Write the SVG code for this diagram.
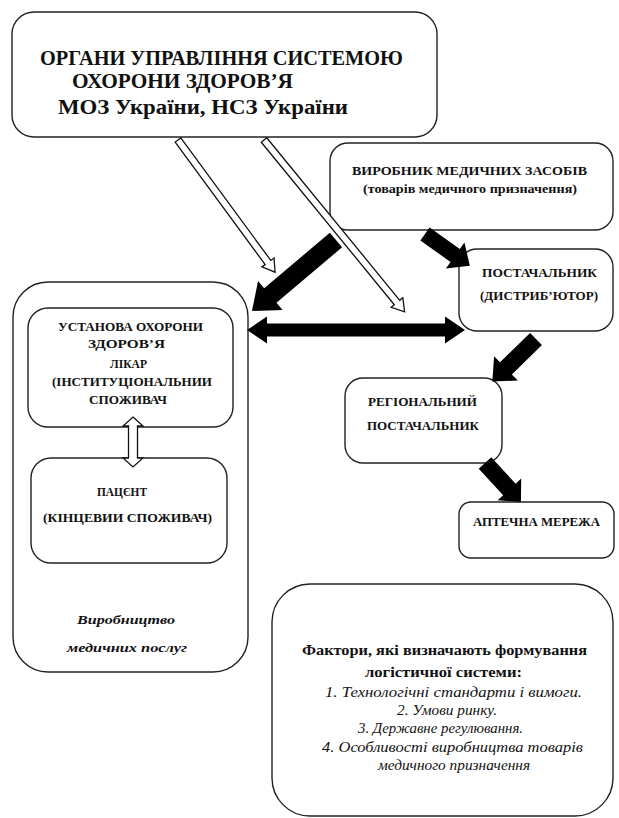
<svg xmlns="http://www.w3.org/2000/svg" width="619" height="818" viewBox="0 0 619 818">
<style>
.box{fill:#fff;stroke:#222;stroke-width:1.4}
.t{font-family:'Liberation Serif','DejaVu Serif',serif;font-weight:bold;fill:#111}
.i{font-family:'Liberation Serif','DejaVu Serif',serif;font-style:italic;fill:#111}
.hollow{fill:#fff;stroke:#111;stroke-width:1.3;stroke-linejoin:miter}
.solid{fill:#000;stroke:none}
</style>
<rect width="619" height="818" fill="#fff"/>
<g id="organs">
<rect class="box" x="12" y="12" width="425" height="125" rx="22"/>
<text class="t" font-size="20" x="40" y="65" textLength="363" lengthAdjust="spacingAndGlyphs">ОРГАНИ УПРАВЛІННЯ СИСТЕМОЮ</text>
<text class="t" font-size="20" x="72" y="88" textLength="221" lengthAdjust="spacingAndGlyphs">ОХОРОНИ ЗДОРОВ’Я</text>
<text class="t" font-size="20" x="58" y="114" textLength="290" lengthAdjust="spacingAndGlyphs">МОЗ України, НСЗ України</text>
</g>
<g id="manufacturer">
<rect class="box" x="330" y="143" width="283" height="87" rx="18"/>
<text class="t" font-size="13" x="352" y="175" textLength="235" lengthAdjust="spacingAndGlyphs">ВИРОБНИК МЕДИЧНИХ ЗАСОБІВ</text>
<text class="t" font-size="12" x="363" y="193" textLength="214" lengthAdjust="spacingAndGlyphs">(товарів медичного призначення)</text>
</g>
<g id="supplier">
<rect class="box" x="459" y="249" width="154" height="82" rx="18"/>
<text class="t" font-size="13" x="482" y="277" textLength="115" lengthAdjust="spacingAndGlyphs">ПОСТАЧАЛЬНИК</text>
<text class="t" font-size="13" x="480" y="300" textLength="118" lengthAdjust="spacingAndGlyphs">(ДИСТРИБ’ЮТОР)</text>
</g>
<g id="services">
<rect class="box" x="13" y="282" width="235" height="390" rx="35"/>
<text class="i" font-weight="bold" font-size="13" x="77" y="624" textLength="98" lengthAdjust="spacingAndGlyphs">Виробництво</text>
<text class="i" font-weight="bold" font-size="13" x="67" y="652" textLength="120" lengthAdjust="spacingAndGlyphs">медичних послуг</text>
</g>
<g id="institution">
<rect class="box" x="28" y="308" width="205" height="119" rx="20"/>
<text class="t" font-size="12.5" x="58" y="331" textLength="145" lengthAdjust="spacingAndGlyphs">УСТАНОВА ОХОРОНИ</text>
<text class="t" font-size="12.5" x="88" y="348" textLength="77" lengthAdjust="spacingAndGlyphs">ЗДОРОВ’Я</text>
<text class="t" font-size="12.5" x="110" y="368" textLength="37" lengthAdjust="spacingAndGlyphs">ЛІКАР</text>
<text class="t" font-size="12.5" x="52" y="386" textLength="160" lengthAdjust="spacingAndGlyphs">(ІНСТИТУЦІОНАЛЬНИИ</text>
<text class="t" font-size="12.5" x="89" y="404" textLength="78" lengthAdjust="spacingAndGlyphs">СПОЖИВАЧ</text>
</g>
<g id="patient">
<rect class="box" x="31" y="458" width="196" height="105" rx="20"/>
<text class="t" font-size="12.5" x="97" y="496" textLength="50" lengthAdjust="spacingAndGlyphs">ПАЦЄНТ</text>
<text class="t" font-size="12.5" x="43" y="522" textLength="169" lengthAdjust="spacingAndGlyphs">(КІНЦЕВИИ СПОЖИВАЧ)</text>
</g>
<g id="regional">
<rect class="box" x="345" y="378" width="157" height="85" rx="18"/>
<text class="t" font-size="13" x="368" y="406" textLength="109" lengthAdjust="spacingAndGlyphs">РЕГІОНАЛЬНИЙ</text>
<text class="t" font-size="13" x="367" y="430" textLength="112" lengthAdjust="spacingAndGlyphs">ПОСТАЧАЛЬНИК</text>
</g>
<g id="pharmacy">
<rect class="box" x="459" y="502" width="155" height="56" rx="12"/>
<text class="t" font-size="13" x="473" y="526" textLength="127" lengthAdjust="spacingAndGlyphs">АПТЕЧНА МЕРЕЖА</text>
</g>
<g id="factors">
<rect class="box" x="272" y="584" width="341" height="232" rx="38"/>
<text class="t" font-size="14" x="302" y="655" textLength="285" lengthAdjust="spacingAndGlyphs">Фактори, які визначають формування</text>
<text class="t" font-size="14" x="365" y="677" textLength="157" lengthAdjust="spacingAndGlyphs">логістичної системи:</text>
<text class="i" font-size="14" x="325" y="697" textLength="257" lengthAdjust="spacingAndGlyphs">1.  Технологічні стандарти і вимоги.</text>
<text class="i" font-size="14" x="397" y="715" textLength="100" lengthAdjust="spacingAndGlyphs">2.  Умови ринку.</text>
<text class="i" font-size="14" x="358" y="733" textLength="165" lengthAdjust="spacingAndGlyphs">3.  Державне регулювання.</text>
<text class="i" font-size="14" x="322" y="752" textLength="261" lengthAdjust="spacingAndGlyphs">4.  Особливості виробництва товарів</text>
<text class="i" font-size="14" x="378" y="770" textLength="152" lengthAdjust="spacingAndGlyphs">медичного призначення</text>
</g>
<g id="connectors">
<path class="solid" transform="translate(336,240) rotate(139.8)" d="M0,-9.5 L86,-9.5 L86,-19 L110,0 L86,19 L86,9.5 L0,9.5 Z"/>
<path class="solid" transform="translate(425,234) rotate(35.4)" d="M0,-8 L37,-8 L37,-16 L55,0 L37,16 L37,8 L0,8 Z"/>
<path class="solid" transform="translate(536,339) rotate(135.7)" d="M0,-8.5 L42,-8.5 L42,-17 L61,0 L42,17 L42,8.5 L0,8.5 Z"/>
<path class="solid" transform="translate(485,463) rotate(47.3)" d="M0,-8.5 L36,-8.5 L36,-16 L53,0 L36,16 L36,8.5 L0,8.5 Z"/>
<path class="solid" d="M247,330 L267,316.5 L267,323.5 L445,323.5 L445,316.5 L465,330 L445,343.5 L445,336.5 L267,336.5 L267,343.5 Z"/>
<path class="hollow" transform="translate(178,140) rotate(53.7)" d="M0,-3.5 L152,-3.5 L152,-7.5 L164,0 L152,7.5 L152,3.5 L0,3.5 Z"/>
<path class="hollow" transform="translate(264,140) rotate(50.7)" d="M0,-3.5 L210,-3.5 L210,-7.5 L222,0 L210,7.5 L210,3.5 L0,3.5 Z"/>
<path class="hollow" d="M133,417 L143,426 L137.5,426 L137.5,458 L143,458 L133,467 L123,458 L128.5,458 L128.5,426 L123,426 Z"/>
</g>
</svg>
